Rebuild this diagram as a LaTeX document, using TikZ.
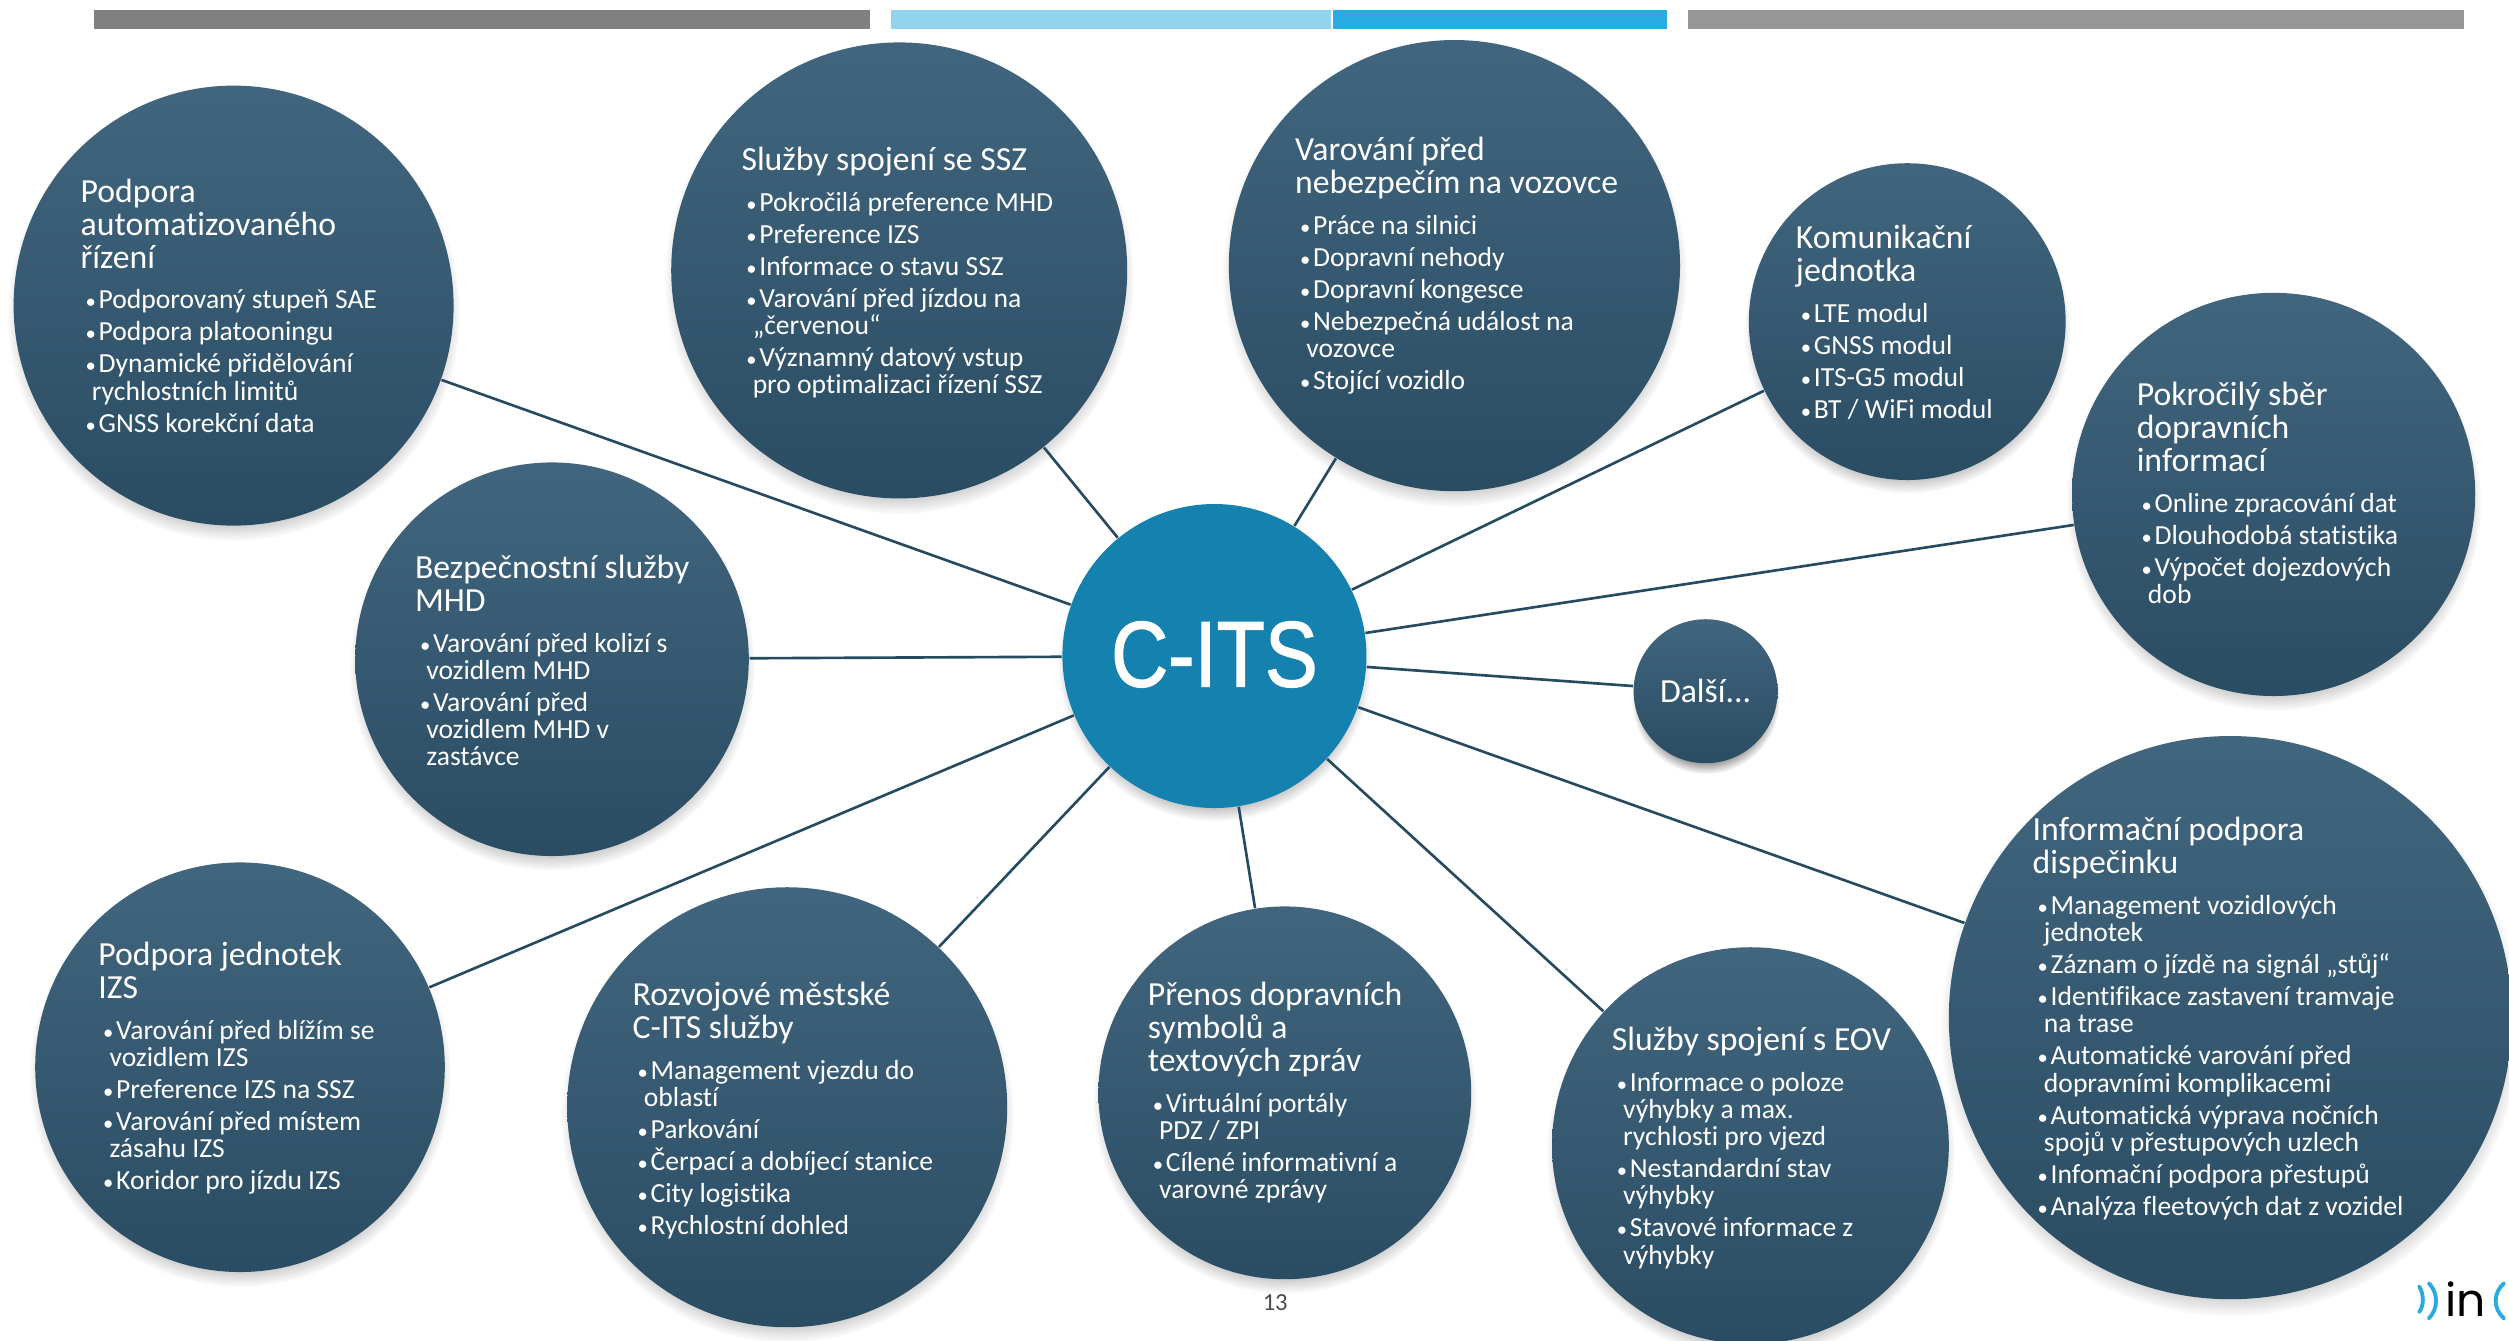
\documentclass[tikz,border=0pt]{standalone}
\usepackage{fontspec}
\setmainfont[Ligatures=NoCommon]{Carlito}
\newfontfamily\hubfont[FakeBold=1.5]{Liberation Sans}
\newfontfamily\logofont{Poppins}
\usetikzlibrary{shadows}

\definecolor{bubblelight}{HTML}{4A6E88}
\definecolor{bubbledark}{HTML}{274A60}
\definecolor{hubblue}{HTML}{1581AE}
\definecolor{linkblue}{HTML}{264A60}
\definecolor{barlight}{HTML}{92D4F0}
\definecolor{barblue}{HTML}{29ABE2}

\pgfdeclareverticalshading{bubblefill}{100bp}{color(0bp)=(bubbledark); color(20bp)=(bubbledark); color(92bp)=(bubblelight); color(100bp)=(bubblelight)}

\AtBeginDocument{\lineskiplimit=-20pt\relax}

\newcommand{\ttl}[1]{{\fontsize{9.6}{7.74}\selectfont\rule{0pt}{8pt}#1}}
\newcommand{\itm}[1]{\hspace*{1.4pt}\makebox[3.7pt][l]{\scalebox{.75}{\textbullet}}#1}
\newcommand{\cont}[1]{\hspace*{3.2pt}#1}

\tikzset{
    bubble/.style={circle, inner sep=0pt, shading=bubblefill, circular drop shadow={shadow xshift=0pt, shadow yshift=-2.4pt, shadow scale=1.03, opacity=.75}},
    blurb/.style={anchor=north west, inner sep=0pt, align=left, text=white, font=\fontsize{7.85}{7.74}\selectfont},
    link/.style={draw=linkblue, line width=.75pt},
    logoarc/.style={draw=barblue, line width=1.1pt, line cap=round}
}

\begin{document}
\begin{tikzpicture}[x=0.016cm, y=-0.016cm]
        \useasboundingbox (0,0) rectangle (1568.1,838.1);

        % top bars
        \fill[black!50] (59,6) rectangle (544,18);
        \fill[barlight] (557,6) rectangle (832,18);
        \fill[barblue] (833,6) rectangle (1042,18);
        \fill[black!41] (1055,6) rectangle (1540,18);

        \node[circle, inner sep=0pt, minimum size=190*0.016cm, fill=hubblue, circular drop shadow={shadow xshift=0pt, shadow yshift=-2.4pt, shadow scale=1.03, opacity=.75}] (hub) at (759,410) {};
        \node[bubble, minimum size=275*0.016cm] (auto) at (146,191) {};
        \node[bubble, minimum size=285*0.016cm] (ssz) at (562,169) {};
        \node[bubble, minimum size=282*0.016cm] (danger) at (909,166) {};
        \node[bubble, minimum size=198*0.016cm] (unit) at (1192,201) {};
        \node[bubble, minimum size=252*0.016cm] (traffic) at (1421,309) {};
        \node[bubble, minimum size=90*0.016cm] (more) at (1066,432) {};
        \node[bubble, minimum size=352*0.016cm] (dispatch) at (1394,636) {};
        \node[bubble, minimum size=248*0.016cm] (eov) at (1094,716) {};
        \node[bubble, minimum size=233*0.016cm] (symbols) at (803,683) {};
        \node[bubble, minimum size=275*0.016cm] (city) at (492,692) {};
        \node[bubble, minimum size=256*0.016cm] (izs) at (150,667) {};
        \node[bubble, minimum size=246*0.016cm] (safety) at (345,412) {};

        \draw[link] (hub) -- (auto);
        \draw[link] (hub) -- (ssz);
        \draw[link] (hub) -- (danger);
        \draw[link] (hub) -- (unit);
        \draw[link] (hub) -- (traffic);
        \draw[link] (hub) -- (more);
        \draw[link] (hub) -- (dispatch);
        \draw[link] (hub) -- (eov);
        \draw[link] (hub) -- (symbols);
        \draw[link] (hub) -- (city);
        \draw[link] (hub) -- (izs);
        \draw[link] (hub) -- (safety);

        \node[text=white, inner sep=0pt, xscale=.85, transform shape, font=\fontsize{26.5}{27}\selectfont\hubfont] (hubtext) at (759,409) {C-ITS};
        \node[text=white, inner sep=0pt, font=\fontsize{9.6}{9.6}\selectfont] (moretext) at (1066,432) {Další...};

        \node[blurb] (autotext) at (50,108.5) {\ttl{Podpora}\\[1.6pt]\ttl{automatizovaného}\\[1.6pt]\ttl{řízení}\\[3.9pt]
            \itm{Podporovaný stupeň SAE}\\[1.36pt]\itm{Podpora platooningu}\\[1.36pt]\itm{Dynamické přidělování}\\\cont{rychlostních limitů}\\[1.36pt]\itm{GNSS korekční data}};
        \node[blurb] (ssztext) at (463,88.5) {\ttl{Služby spojení se SSZ}\\[3.9pt]
            \itm{Pokročilá preference MHD}\\[1.36pt]\itm{Preference IZS}\\[1.36pt]\itm{Informace o stavu SSZ}\\[1.36pt]\itm{Varování před jízdou na}\\\cont{„červenou“}\\[1.36pt]\itm{Významný datový vstup}\\\cont{pro optimalizaci řízení SSZ}};
        \node[blurb] (dangertext) at (809,82.5) {\ttl{Varování před}\\[1.6pt]\ttl{nebezpečím na vozovce}\\[3.9pt]
            \itm{Práce na silnici}\\[1.36pt]\itm{Dopravní nehody}\\[1.36pt]\itm{Dopravní kongesce}\\[1.36pt]\itm{Nebezpečná událost na}\\\cont{vozovce}\\[1.36pt]\itm{Stojící vozidlo}};
        \node[blurb] (unittext) at (1122,137.5) {\ttl{Komunikační}\\[1.6pt]\ttl{jednotka}\\[3.9pt]
            \itm{LTE modul}\\[1.36pt]\itm{GNSS modul}\\[1.36pt]\itm{ITS-G5 modul}\\[1.36pt]\itm{BT / WiFi modul}};
        \node[blurb] (traffictext) at (1335,235.5) {\ttl{Pokročilý sběr}\\[1.6pt]\ttl{dopravních}\\[1.6pt]\ttl{informací}\\[3.9pt]
            \itm{Online zpracování dat}\\[1.36pt]\itm{Dlouhodobá statistika}\\[1.36pt]\itm{Výpočet dojezdových}\\\cont{dob}};
        \node[blurb] (dispatchtext) at (1270,507.5) {\ttl{Informační podpora}\\[1.6pt]\ttl{dispečinku}\\[3.9pt]
            \itm{Management vozidlových}\\\cont{jednotek}\\[1.36pt]\itm{Záznam o jízdě na signál „stůj“}\\[1.36pt]\itm{Identifikace zastavení tramvaje}\\\cont{na trase}\\[1.36pt]\itm{Automatické varování před}\\\cont{dopravními komplikacemi}\\[1.36pt]\itm{Automatická výprava nočních}\\\cont{spojů v přestupových uzlech}\\[1.36pt]\itm{Infomační podpora přestupů}\\[1.36pt]\itm{Analýza fleetových dat z vozidel}};
        \node[blurb] (eovtext) at (1007,638.5) {\ttl{Služby spojení s EOV}\\[3.9pt]
            \itm{Informace o poloze}\\\cont{výhybky a max.}\\\cont{rychlosti pro vjezd}\\[1.36pt]\itm{Nestandardní stav}\\\cont{výhybky}\\[1.36pt]\itm{Stavové informace z}\\\cont{výhybky}};
        \node[blurb] (symbolstext) at (717,610.5) {\ttl{Přenos dopravních}\\[1.6pt]\ttl{symbolů a}\\[1.6pt]\ttl{textových zpráv}\\[3.9pt]
            \itm{Virtuální portály}\\\cont{PDZ / ZPI}\\[1.36pt]\itm{Cílené informativní a}\\\cont{varovné zprávy}};
        \node[blurb] (citytext) at (395,610.5) {\ttl{Rozvojové městské}\\[1.6pt]\ttl{C-ITS služby}\\[3.9pt]
            \itm{Management vjezdu do}\\\cont{oblastí}\\[1.36pt]\itm{Parkování}\\[1.36pt]\itm{Čerpací a dobíjecí stanice}\\[1.36pt]\itm{City logistika}\\[1.36pt]\itm{Rychlostní dohled}};
        \node[blurb] (izstext) at (61,585.5) {\ttl{Podpora jednotek}\\[1.6pt]\ttl{IZS}\\[3.9pt]
            \itm{Varování před blížím se}\\\cont{vozidlem IZS}\\[1.36pt]\itm{Preference IZS na SSZ}\\[1.36pt]\itm{Varování před místem}\\\cont{zásahu IZS}\\[1.36pt]\itm{Koridor pro jízdu IZS}};
        \node[blurb] (safetytext) at (259,343.5) {\ttl{Bezpečnostní služby}\\[1.6pt]\ttl{MHD}\\[3.9pt]
            \itm{Varování před kolizí s}\\\cont{vozidlem MHD}\\[1.36pt]\itm{Varování před}\\\cont{vozidlem MHD v}\\\cont{zastávce}};

        \node[text=black!70, inner sep=0pt, font=\fontsize{7}{7}\selectfont] (pagenum) at (797,814) {13};

        % logo
        \draw[logoarc] (1512,804) .. controls (1515,809) and (1515,816) .. (1512,820);
        \draw[logoarc] (1518,802) .. controls (1524,808) and (1524,818) .. (1518,824);
        \node[text=black, inner sep=0pt, anchor=base west, font=\fontsize{13}{13}\selectfont\logofont] (logotext) at (1528,823) {in};
        \draw[logoarc] (1565,802) .. controls (1558,808) and (1558,818) .. (1565,824);
\end{tikzpicture}
\end{document}
